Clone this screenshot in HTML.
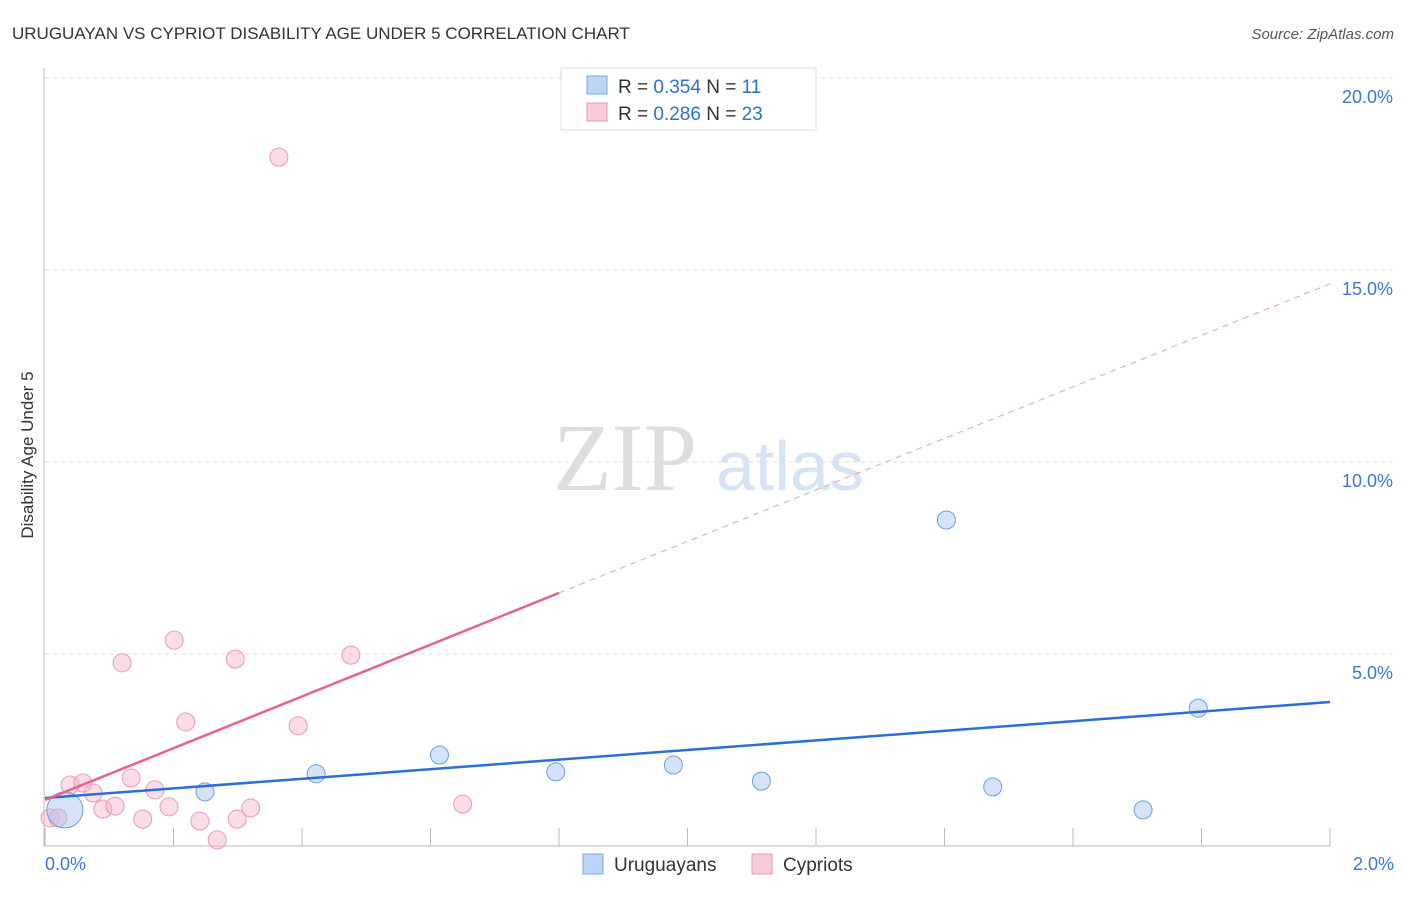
<!DOCTYPE html>
<html><head><meta charset="utf-8"><style>
body{margin:0;background:#fff;font-family:"Liberation Sans",sans-serif;}
</style></head><body>
<svg width="1406" height="892" xmlns="http://www.w3.org/2000/svg" font-family="Liberation Sans, sans-serif">
<text x="12" y="39" font-size="17" fill="#333">URUGUAYAN VS CYPRIOT DISABILITY AGE UNDER 5 CORRELATION CHART</text>
<text x="1394" y="39" font-size="15" fill="#555" text-anchor="end" font-style="italic">Source: ZipAtlas.com</text>
<g id="grid"></g>
<text x="553" y="490" font-size="96" fill="#ddd" font-family="Liberation Serif, serif">ZIP</text>
<text x="716" y="490" font-size="70" fill="#d5e3f5">atlas</text>
<text transform="translate(33,455) rotate(-90)" font-size="17" fill="#333" text-anchor="middle">Disability Age Under 5</text>
<g id="marks"></g>
<g>
<rect x="561" y="68" width="255" height="62" fill="#fff" stroke="#ddd"/>
<rect x="587" y="76" width="20" height="18" fill="#bcd5f5" stroke="#7aa6e0"/>
<text x="618" y="93" font-size="19" fill="#333">R = <tspan fill="#2b6fd6">0.354</tspan>   N =  <tspan fill="#2b6fd6">11</tspan></text>
<rect x="587" y="103" width="20" height="18" fill="#f9cad8" stroke="#ec9ab4"/>
<text x="618" y="120" font-size="19" fill="#333">R = <tspan fill="#2b6fd6">0.286</tspan>   N = <tspan fill="#2b6fd6">23</tspan></text>
</g>
<g>
<rect x="583" y="854" width="20" height="20" fill="#bcd5f5" stroke="#7aa6e0"/>
<text x="614" y="871" font-size="19" fill="#333">Uruguayans</text>
<rect x="752" y="854" width="20" height="20" fill="#f9cad8" stroke="#ec9ab4"/>
<text x="783" y="871" font-size="19" fill="#333">Cypriots</text>
</g>
</svg>
<script>
const xTicks=[0,2.0];
const yTicks=[5,10,15,20];
const uruX=[0.031,0.249,0.422,0.614,0.795,0.978,1.115,1.403,1.475,1.709,1.795];
const uruY=[0.94,1.41,1.88,2.37,1.93,2.11,1.69,8.49,1.54,0.94,3.59];
const uruR=[18,9,9,9,9,9,9,9,9,9,9];
const cypX=[0.364,0.120,0.201,0.296,0.476,0.219,0.394,0.039,0.059,0.075,0.134,0.171,0.090,0.109,0.193,0.152,0.241,0.299,0.320,0.268,0.650,0.008,0.020];
const cypY=[17.94,4.77,5.36,4.87,4.97,3.23,3.13,1.59,1.64,1.38,1.77,1.46,0.96,1.04,1.02,0.70,0.65,0.70,0.99,0.16,1.09,0.73,0.73];
const uruLine=[1.25,3.75];
const cypLine=[1.20,6.59,14.64];
const cypSolidEnd=0.80;
const X=v=>45+v/2*1285, Y=v=>846-v*38.4;
const NS='http://www.w3.org/2000/svg';
function mk(t,a,p){const e=document.createElementNS(NS,t);for(const k in a)e.setAttribute(k,a[k]);p.appendChild(e);return e;}
const g=document.getElementById('grid'), m=document.getElementById('marks');
yTicks.forEach(v=>{
 const l=mk('line',{x1:45,x2:1394,y1:Y(v),y2:Y(v),stroke:'#ddd','stroke-dasharray':'4,4'},g);
 
 
 const t=mk('text',{x:1393,y:Y(v)+25,'font-size':18,fill:'#3b78d8','text-anchor':'end'},g);
 t.textContent=v.toFixed(1)+'%';
 
 
});
mk('line',{x1:44,x2:44,y1:68,y2:846,stroke:'#bbb'},g);
mk('line',{x1:44,x2:1330,y1:846,y2:846,stroke:'#bbb'},g);
for(let i=0;i<=10;i++){const x=X(i*0.2);const l=mk('line',{x1:x,x2:x,y1:828,y2:846,stroke:'#bbb'},g);
 
 }
xTicks.forEach((v,i)=>{const t=mk('text',{x:i?1394:45,y:870,'font-size':18,fill:'#3b78d8','text-anchor':i?'end':'start'},g);
 t.textContent=v.toFixed(1)+'%';
 
 });
cypX.forEach((v,i)=>{const c=mk('circle',{cx:X(v),cy:Y(cypY[i]),r:9,fill:'rgba(246,180,200,0.45)',stroke:'#ec9ab4','stroke-width':1},m);
 
 });
uruX.forEach((v,i)=>{const c=mk('circle',{cx:X(v),cy:Y(uruY[i]),r:uruR[i],fill:'rgba(170,200,240,0.5)',stroke:'#6e9fe0','stroke-width':1},m);
 
 });
let l=mk('line',{x1:X(0),y1:Y(uruLine[0]),x2:X(2),y2:Y(uruLine[1]),stroke:'#2b6fd6','stroke-width':2.5},m);


l=mk('line',{x1:X(0),y1:Y(cypLine[0]),x2:X(cypSolidEnd),y2:Y(cypLine[1]),stroke:'#e8638e','stroke-width':2.5},m);


l=mk('line',{x1:X(cypSolidEnd),y1:Y(cypLine[1]),x2:X(2),y2:Y(cypLine[2]),stroke:'#e8a0b8','stroke-width':1,'stroke-dasharray':'6,5'},m);


</script>
</body></html>
